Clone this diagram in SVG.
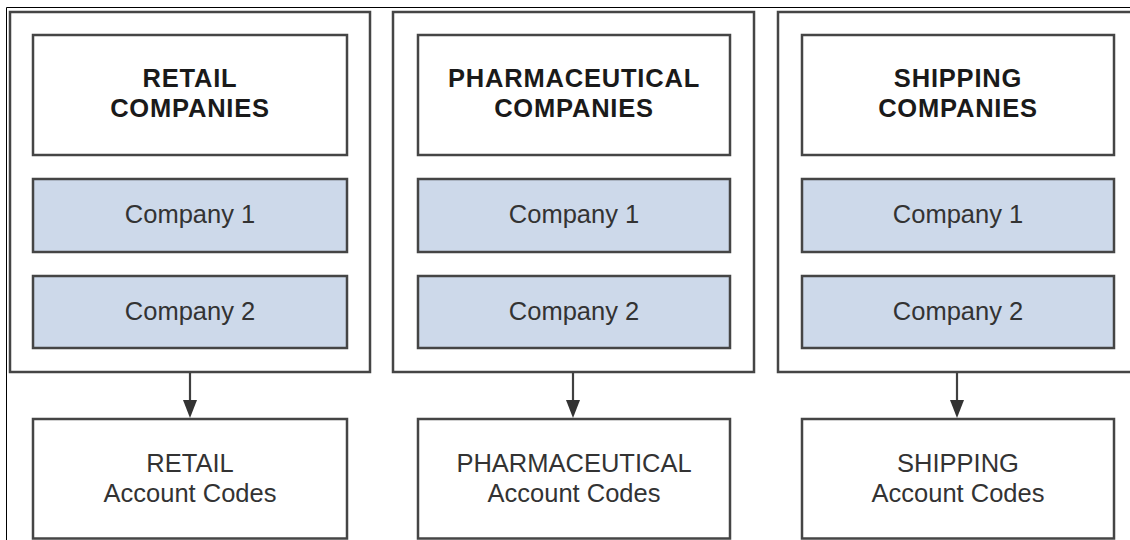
<svg xmlns="http://www.w3.org/2000/svg" width="1130" height="540" viewBox="0 0 1130 540">
<defs>
<style>
.frame{fill:none;stroke:#000;stroke-width:1}
.grp{fill:#fff;stroke:#454545;stroke-width:2.5}
.box{fill:#fff;stroke:#454545;stroke-width:2.5}
.co{fill:#cdd9ea;stroke:#454545;stroke-width:2.5}
.title{font-family:"Liberation Sans",Arial,sans-serif;font-weight:bold;font-size:25.5px;letter-spacing:0.8px;fill:#1a1a1a;text-anchor:middle}
.lbl{font-family:"Liberation Sans",Arial,sans-serif;font-size:25.5px;fill:#333;text-anchor:middle}
.conn{stroke:#404040;stroke-width:2.2;fill:none}
</style>
</defs>
<rect width="1130" height="540" fill="#fff"/>
<path class="frame" d="M6.5,540 V7.5 H1130"/>

<g id="retail-group">
<rect class="grp" x="10" y="12" width="360" height="360"/>
</g>
<g id="pharma-group">
<rect class="grp" x="393" y="12" width="361" height="360"/>
</g>
<g id="shipping-group">
<path class="grp" d="M1132,12 H778 V372 H1132"/>
</g>

<g id="retail-title">
<rect class="box" x="33" y="35" width="314" height="120"/>
<text class="title" x="190" y="87">RETAIL</text>
<text class="title" x="190" y="117">COMPANIES</text>
</g>
<g id="retail-c1">
<rect class="co" x="33" y="179" width="314" height="73"/>
<text class="lbl" x="190" y="223">Company 1</text>
</g>
<g id="retail-c2">
<rect class="co" x="33" y="276" width="314" height="72"/>
<text class="lbl" x="190" y="320">Company 2</text>
</g>

<g id="pharma-title">
<rect class="box" x="418" y="35" width="312" height="120"/>
<text class="title" x="574" y="87">PHARMACEUTICAL</text>
<text class="title" x="574" y="117">COMPANIES</text>
</g>
<g id="pharma-c1">
<rect class="co" x="418" y="179" width="312" height="73"/>
<text class="lbl" x="574" y="223">Company 1</text>
</g>
<g id="pharma-c2">
<rect class="co" x="418" y="276" width="312" height="72"/>
<text class="lbl" x="574" y="320">Company 2</text>
</g>

<g id="shipping-title">
<rect class="box" x="802" y="35" width="312" height="120"/>
<text class="title" x="958" y="87">SHIPPING</text>
<text class="title" x="958" y="117">COMPANIES</text>
</g>
<g id="shipping-c1">
<rect class="co" x="802" y="179" width="312" height="73"/>
<text class="lbl" x="958" y="223">Company 1</text>
</g>
<g id="shipping-c2">
<rect class="co" x="802" y="276" width="312" height="72"/>
<text class="lbl" x="958" y="320">Company 2</text>
</g>

<g id="retail-codes">
<rect class="box" x="33" y="419" width="314" height="119.5"/>
<text class="lbl" x="190" y="472">RETAIL</text>
<text class="lbl" x="190" y="502">Account Codes</text>
</g>
<g id="pharma-codes">
<rect class="box" x="418" y="419" width="312" height="119.5"/>
<text class="lbl" x="574" y="472">PHARMACEUTICAL</text>
<text class="lbl" x="574" y="502">Account Codes</text>
</g>
<g id="shipping-codes">
<rect class="box" x="802" y="419" width="312" height="119.5"/>
<text class="lbl" x="958" y="472">SHIPPING</text>
<text class="lbl" x="958" y="502">Account Codes</text>
</g>

<g id="connectors">
<path class="conn" d="M190,373 V401"/>
<path d="M183,400 L197,400 L190,418 Z" fill="#333"/>
<path class="conn" d="M573,373 V401"/>
<path d="M566,400 L580,400 L573,418 Z" fill="#333"/>
<path class="conn" d="M957,373 V401"/>
<path d="M950,400 L964,400 L957,418 Z" fill="#333"/>
</g>
</svg>
